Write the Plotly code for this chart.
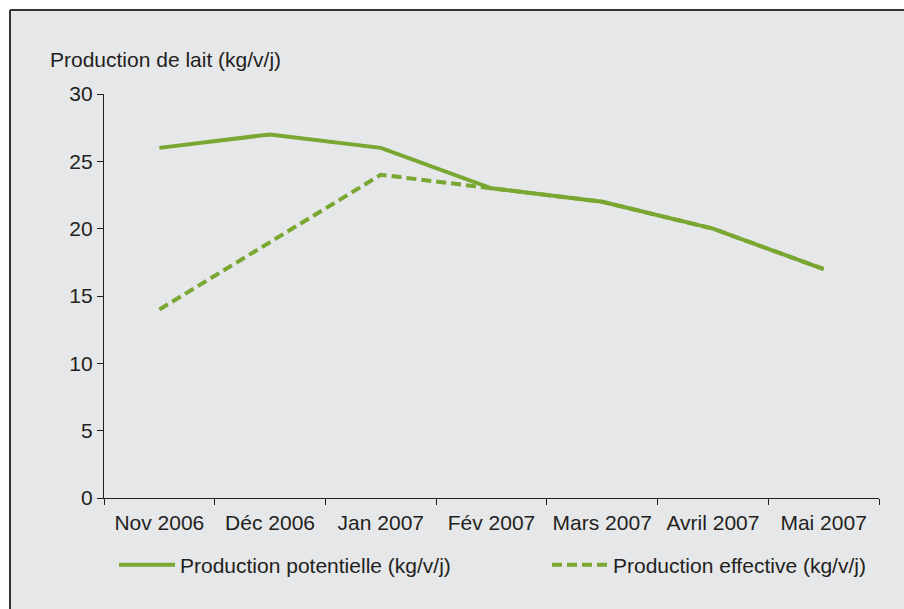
import plotly.graph_objects as go

months = ["Nov 2006", "Déc 2006", "Jan 2007", "Fév 2007", "Mars 2007", "Avril 2007", "Mai 2007"]
potentielle = [26, 27, 26, 23, 22, 20, 17]
effective = [14, 19, 24, 23, 22, 20, 17]
y_ticks = [0, 5, 10, 15, 20, 25, 30]

GREEN = "#7aa632"
TXT = "#231f20"
BG = "#e6e7e9"
FONT = "Liberation Sans, Arial, sans-serif"
FS = 21

fig = go.Figure()
fig.add_trace(go.Scatter(
    x=months, y=effective, mode="lines", name="Production effective (kg/v/j)",
    line=dict(color=GREEN, width=4, dash="10px,5px"), legend="legend2"))
fig.add_trace(go.Scatter(
    x=months, y=potentielle, mode="lines", name="Production potentielle (kg/v/j)",
    line=dict(color=GREEN, width=4), legend="legend"))

fig.update_layout(
    width=904, height=609,
    paper_bgcolor=BG, plot_bgcolor=BG,
    font=dict(family=FONT, size=FS, color=TXT),
    margin=dict(l=104, r=25, t=94, b=111),
    showlegend=True,
    legend=dict(x=10 / 775, y=-67 / 404, xanchor="left", yanchor="middle", xref="paper", yref="paper",
                itemwidth=56, bgcolor="rgba(0,0,0,0)", font=dict(size=FS, color=TXT)),
    legend2=dict(x=443 / 775, y=-67 / 404, xanchor="left", yanchor="middle", xref="paper", yref="paper",
                 itemwidth=56, bgcolor="rgba(0,0,0,0)", font=dict(size=FS, color=TXT)),
    xaxis=dict(type="category", categoryorder="array", categoryarray=months,
               range=[-0.5, 6.5], showgrid=False, zeroline=False,
               showline=True, linecolor=TXT, linewidth=1.2,
               ticks="outside", tickson="boundaries", ticklen=6, tickcolor=TXT, tickwidth=1.2,
               ticklabelstandoff=6, tickfont=dict(size=FS, color=TXT)),
    yaxis=dict(range=[0, 30], tickvals=y_ticks, showgrid=False, zeroline=False,
               showline=True, linecolor=TXT, linewidth=1.2,
               ticks="outside", ticklen=6, tickcolor=TXT, tickwidth=1.2,
               tickfont=dict(size=FS, color=TXT)),
    shapes=[
        dict(type="rect", xref="paper", yref="paper", layer="below",
             x0=-104 / 775, x1=-94 / 775, y0=-111 / 404, y1=1 + 94 / 404,
             fillcolor="white", line=dict(width=0)),
        dict(type="rect", xref="paper", yref="paper", layer="below",
             x0=-104 / 775, x1=1 + 25 / 775, y0=1 + 84 / 404, y1=1 + 94 / 404,
             fillcolor="white", line=dict(width=0)),
        dict(type="line", xref="paper", yref="paper",
             x0=-94 / 775, x1=1 + 25 / 775, y0=1 + 84 / 404, y1=1 + 84 / 404,
             line=dict(color="#333333", width=2)),
        dict(type="line", xref="paper", yref="paper",
             x0=-94 / 775, x1=-94 / 775, y0=-111 / 404, y1=1 + 84 / 404,
             line=dict(color="#333333", width=2)),
    ],
    annotations=[
        dict(text="Production de lait (kg/v/j)", xref="paper", yref="paper",
             x=-56 / 775, y=1 + 34 / 404, xanchor="left", yanchor="middle",
             showarrow=False, font=dict(size=FS, color=TXT)),
    ],
)

fig.write_html(
    "out.html",
    config={"displayModeBar": False},
    post_script="document.body.style.margin='0';document.body.style.overflow='hidden';",
)
